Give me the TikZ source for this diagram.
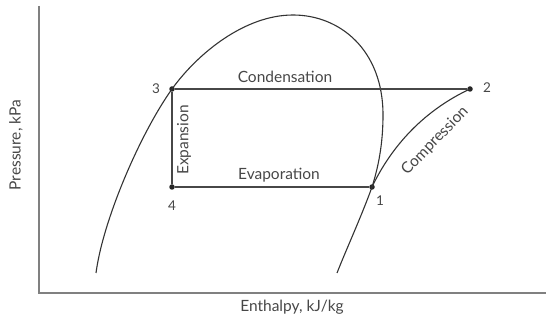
\documentclass[tikz,border=0pt]{standalone}
\usepackage{fontspec}
\setmainfont{Lato}
\begin{document}
\begin{tikzpicture}[x=1pt,y=-1pt,
  dot/.style={circle,fill=black!85,inner sep=0pt,minimum size=5.5pt},
  lbl/.style={text=black!72,font=\fontsize{15.5}{18}\selectfont,inner sep=0pt},
  num/.style={text=black!72,font=\fontsize{13.5}{16}\selectfont,inner sep=0pt},
  axis/.style={draw=black!50,line width=1.3pt},
  cyc/.style={draw=black!72,line width=1.1pt},
  curve/.style={draw=black!80,line width=1.1pt}]
\useasboundingbox (0,0) rectangle (546,320);
% axes
\coordinate (ytop) at (39,6);
\coordinate (orig) at (39,293);
\coordinate (xend) at (546,293);
\draw[axis] (ytop) -- (orig) -- (xend);
% points
\node[dot] (p3) at (172,89) {};
\node[dot] (p2) at (470,89) {};
\node[dot] (p4) at (172,187) {};
\node[dot] (p1) at (372,187) {};
% dome
\draw[curve] (96,273) .. controls (103,220) and (140,134) .. (p3.center)
  .. controls (198,53) and (245,15) .. (293,15)
  .. controls (340,15) and (383,50) .. (383,115)
  .. controls (383,145) and (378,168) .. (p1.center)
  .. controls (362,215) and (346,250) .. (337,273);
% cycle
\draw[cyc] (p3) -- (p2);
\draw[cyc] (p3) -- (p4);
\draw[cyc] (p4) -- (p1);
\draw[curve] (p1.center) .. controls (392,145) and (425,110) .. (p2.center);
% labels
\node[num] (n3) at (156,89) {3};
\node[num] (n2) at (487,88) {2};
\node[num] (n4) at (172,206) {4};
\node[num] (n1) at (380,201) {1};
\node[lbl] (cond) at (285,77) {Condensation};
\node[lbl] (evap) at (279,175) {Evaporation};
\node[lbl,rotate=90] (exp) at (184,140) {Expansion};
\node[lbl,rotate=46] (comp) at (435,141) {Compression};
\node[lbl,rotate=90] (ylab) at (16,145) {Pressure, kPa};
\node[lbl] (xlab) at (292,307) {Enthalpy, kJ/kg};
\end{tikzpicture}
\end{document}
